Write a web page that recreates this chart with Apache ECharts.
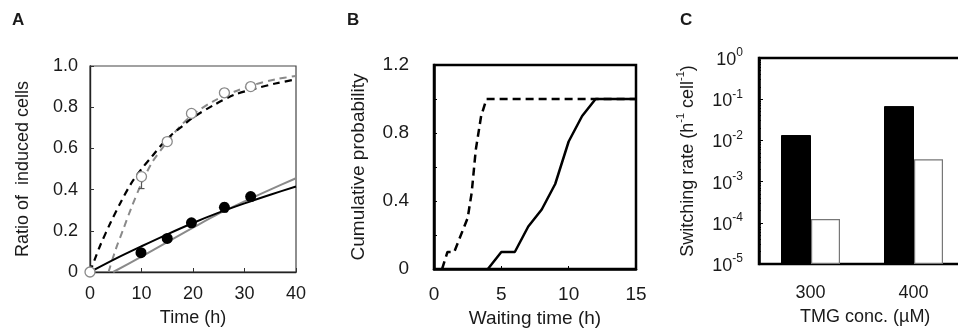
<!DOCTYPE html>
<html>
<head>
<meta charset="utf-8">
<script src="https://cdn.jsdelivr.net/npm/echarts@6/dist/echarts.min.js"></script>
<style>
  html, body { margin: 0; padding: 0; background: #fff; }
  #chart { width: 958px; height: 333px; }
</style>
</head>
<body>
<div id="chart"></div>
<script>
// ---- panel A: ratio of induced cells vs time ----
const openPts = [[0, 0], [10, 0.463], [15, 0.633], [19.7, 0.77], [26.1, 0.87], [31.2, 0.9]];
const filledPts = [[9.9, 0.094], [15, 0.163], [19.7, 0.239], [26.1, 0.314], [31.2, 0.366]];
// [x, low, high]
const openErr = [[10, 0.405, 0.47], [26.1, 0.85, 0.89], [31.2, 0.885, 0.91]];
const filledErr = [[19.7, 0.22, 0.255], [26.1, 0.29, 0.335], [31.2, 0.345, 0.38]];
const fitBlackDash = [[0, 0], [1, 0.066], [2, 0.13], [4, 0.24], [6, 0.34], [8, 0.43], [10, 0.5], [12, 0.56],
  [14, 0.62], [16, 0.67], [18, 0.71], [20, 0.75], [24, 0.81], [28, 0.86], [32, 0.89], [36, 0.915], [40, 0.935]];
const fitGrayDash = [[3.6, 0], [5, 0.11], [6.5, 0.21], [8, 0.31], [10, 0.43], [12, 0.53], [14, 0.6], [16, 0.665],
  [18, 0.72], [20, 0.765], [24, 0.83], [28, 0.875], [32, 0.91], [36, 0.935], [40, 0.952]];
const fitBlackSolid = [[0, 0], [5, 0.065], [10, 0.125], [15, 0.183], [20, 0.238], [25, 0.288], [30, 0.333], [35, 0.375], [40, 0.415]];
const fitGraySolid = [[4.5, 0], [10, 0.075], [15, 0.145], [20, 0.215], [25, 0.283], [30, 0.343], [35, 0.4], [40, 0.455]];

// ---- panel B: cumulative probability of waiting time ----
const cdfDashed = [[0.6, 0], [1.0, 0.1], [1.5, 0.1], [2.5, 0.3], [2.8, 0.45], [3.1, 0.7], [3.5, 0.9], [3.9, 1.0], [15, 1.0]];
const cdfSolid = [[4, 0], [5, 0.1], [6, 0.1], [7, 0.25], [8, 0.35], [9, 0.5], [10, 0.75], [11, 0.9], [12, 1.0], [15, 1.0]];

// ---- panel C: switching rate ----
const concLabels = ['300', '400', ''];
const rateFilled = [0.0135, 0.068];
const rateOpen = [0.000123, 0.0035];

const FONT = '"Liberation Sans", Arial, sans-serif';
const TXT = '#1a1a1a';
const GRAY = '#8a8a8a';

const chart = echarts.init(document.getElementById('chart'), null, { renderer: 'canvas' });

function errBars(data, color, xi, yi) {
  return {
    type: 'custom',
    xAxisIndex: xi,
    yAxisIndex: yi,
    z: 3,
    data: data,
    renderItem: function (params, api) {
      const lo = api.coord([api.value(0), api.value(1)]);
      const hi = api.coord([api.value(0), api.value(2)]);
      const cap = 3;
      const st = { stroke: color, lineWidth: 1.2 };
      return {
        type: 'group',
        children: [
          { type: 'line', shape: { x1: lo[0], y1: lo[1], x2: hi[0], y2: hi[1] }, style: st },
          { type: 'line', shape: { x1: lo[0] - cap, y1: lo[1], x2: lo[0] + cap, y2: lo[1] }, style: st },
          { type: 'line', shape: { x1: hi[0] - cap, y1: hi[1], x2: hi[0] + cap, y2: hi[1] }, style: st }
        ]
      };
    }
  };
}

const labelStyle = { color: TXT, fontSize: 18, fontFamily: FONT };
const letterStyle = { fontSize: 17, fontWeight: 'bold', color: TXT, fontFamily: FONT };

chart.setOption({
  animation: false,
  textStyle: { fontFamily: FONT },
  title: [
    { text: 'A', left: 7, top: 7, textStyle: letterStyle },
    { text: 'B', left: 342, top: 7, textStyle: letterStyle },
    { text: 'C', left: 675, top: 7, textStyle: letterStyle }
  ],
  graphic: [
    {
      type: 'text', left: 800, top: 308,
      style: { text: 'TMG conc. (\u00b5M)', fontSize: 18, fontFamily: FONT, fill: TXT }
    }
  ],
  grid: [
    { left: 90, top: 66, width: 206, height: 206, show: true, borderColor: '#444', borderWidth: 1.2,
      outerBoundsMode: 'none', containLabel: false },
    { left: 434, top: 65, width: 202, height: 204, show: true, borderColor: '#000', borderWidth: 2.5,
      outerBoundsMode: 'none', containLabel: false },
    { left: 759, top: 58, width: 309, height: 206, show: true, borderColor: '#000', borderWidth: 2.5,
      outerBoundsMode: 'none', containLabel: false }
  ],
  xAxis: [
    {
      gridIndex: 0, type: 'value', min: 0, max: 40, interval: 10,
      axisLine: { lineStyle: { color: '#222', width: 1.4 } },
      axisTick: { inside: true, length: 4, lineStyle: { color: '#333' } },
      axisLabel: Object.assign({ margin: 13 }, labelStyle),
      splitLine: { show: false },
      name: 'Time (h)', nameLocation: 'middle', nameGap: 37,
      nameTextStyle: labelStyle
    },
    {
      gridIndex: 1, type: 'value', min: 0, max: 15, interval: 5,
      axisLine: { lineStyle: { color: '#000', width: 2.5 } },
      axisTick: { inside: true, length: 3, lineStyle: { color: '#000' } },
      axisLabel: Object.assign({ margin: 16 }, labelStyle, { fontSize: 19 }),
      splitLine: { show: false },
      name: 'Waiting time (h)', nameLocation: 'middle', nameGap: 40,
      nameTextStyle: Object.assign({}, labelStyle, { fontSize: 19 })
    },
    {
      gridIndex: 2, type: 'category', data: concLabels,
      axisLine: { lineStyle: { color: '#000', width: 2 } },
      axisTick: { show: false },
      axisLabel: Object.assign({ margin: 20 }, labelStyle)
    }
  ],
  yAxis: [
    {
      gridIndex: 0, type: 'value', min: 0, max: 1, interval: 0.2,
      axisLine: { show: true, lineStyle: { color: '#222', width: 1.4 } },
      axisTick: { show: true, inside: true, length: 4, lineStyle: { color: '#333' } },
      axisLabel: Object.assign({
        margin: 12,
        formatter: function (v) { return v === 0 ? '0' : v.toFixed(1); }
      }, labelStyle),
      splitLine: { show: false },
      name: 'Ratio of  induced cells', nameLocation: 'middle', nameGap: 58,
      nameTextStyle: labelStyle
    },
    {
      gridIndex: 1, type: 'value', min: 0, max: 1.2, interval: 0.2,
      axisLine: { show: true, lineStyle: { color: '#000', width: 2.5 } },
      axisTick: { show: true, inside: true, length: 3, lineStyle: { color: '#000' } },
      axisLabel: Object.assign({
        margin: 25,
        formatter: function (v) {
          const k = Math.round(v * 10);
          if (k % 4 !== 0) return '';
          return k === 0 ? '0' : v.toFixed(1);
        }
      }, labelStyle, { fontSize: 19 }),
      splitLine: { show: false },
      name: 'Cumulative probability', nameLocation: 'middle', nameGap: 66,
      nameTextStyle: Object.assign({}, labelStyle, { fontSize: 19 })
    },
    {
      gridIndex: 2, type: 'log', logBase: 10, min: 1e-5, max: 1, startValue: 1e-5,
      axisLine: { show: true, lineStyle: { color: '#000', width: 2.5 } },
      axisTick: { show: true, inside: true, length: 4, lineStyle: { color: '#000' } },
      minorTick: { show: true, splitNumber: 9, length: 2, lineStyle: { color: '#000' } },
      axisLabel: {
        margin: 16,
        formatter: function (v) {
          const e = Math.round(Math.log10(v));
          return '{b|10}{s|' + (e === 0 ? '0' : '-' + Math.abs(e)) + '}';
        },
        rich: {
          b: { fontSize: 18, fontFamily: FONT, color: TXT, lineHeight: 22, verticalAlign: 'bottom' },
          s: { fontSize: 12, fontFamily: FONT, color: TXT, lineHeight: 22, verticalAlign: 'top' }
        }
      },
      splitLine: { show: false },
      name: '{m|Switching rate (h}{s|-1}{m| cell}{s|-1}{m|)}', nameLocation: 'middle', nameGap: 62,
      nameTextStyle: {
        rich: {
          m: { fontSize: 18, fontFamily: FONT, color: TXT, lineHeight: 22, verticalAlign: 'bottom' },
          s: { fontSize: 11, fontFamily: FONT, color: TXT, lineHeight: 22, verticalAlign: 'top' }
        }
      }
    }
  ],
  series: [
    // panel A fits
    { type: 'line', xAxisIndex: 0, yAxisIndex: 0, data: fitGrayDash, smooth: 0.3, showSymbol: false, z: 2,
      lineStyle: { color: GRAY, width: 2, type: [7, 5] } },
    { type: 'line', xAxisIndex: 0, yAxisIndex: 0, data: fitBlackDash, smooth: 0.3, showSymbol: false, z: 2,
      lineStyle: { color: '#000', width: 2.2, type: [7, 5] } },
    { type: 'line', xAxisIndex: 0, yAxisIndex: 0, data: fitGraySolid, smooth: 0.3, showSymbol: false, z: 2,
      lineStyle: { color: GRAY, width: 2 } },
    { type: 'line', xAxisIndex: 0, yAxisIndex: 0, data: fitBlackSolid, smooth: 0.3, showSymbol: false, z: 2,
      lineStyle: { color: '#000', width: 2 } },
    errBars(openErr, '#555', 0, 0),
    errBars(filledErr, '#555', 0, 0),
    { type: 'scatter', xAxisIndex: 0, yAxisIndex: 0, data: openPts, symbolSize: 10, z: 4,
      itemStyle: { color: '#fff', borderColor: GRAY, borderWidth: 1.3, opacity: 1 } },
    { type: 'scatter', xAxisIndex: 0, yAxisIndex: 0, data: filledPts, symbolSize: 11, z: 4,
      itemStyle: { color: '#000', opacity: 1 } },
    // panel B
    { type: 'line', xAxisIndex: 1, yAxisIndex: 1, data: cdfDashed, showSymbol: false,
      lineStyle: { color: '#000', width: 2.5, type: [8, 5] } },
    { type: 'line', xAxisIndex: 1, yAxisIndex: 1, data: cdfSolid, showSymbol: false,
      lineStyle: { color: '#000', width: 2.5 } },
    // panel C
    { type: 'bar', xAxisIndex: 2, yAxisIndex: 2, data: rateFilled, barWidth: 30, barGap: '0%',
      itemStyle: { color: '#000', borderColor: '#000', borderWidth: 1 } },
    { type: 'bar', xAxisIndex: 2, yAxisIndex: 2, data: rateOpen, barWidth: 29, barGap: '0%',
      itemStyle: { color: '#fff', borderColor: '#777', borderWidth: 1.2 } }
  ]
});
</script>
</body>
</html>
